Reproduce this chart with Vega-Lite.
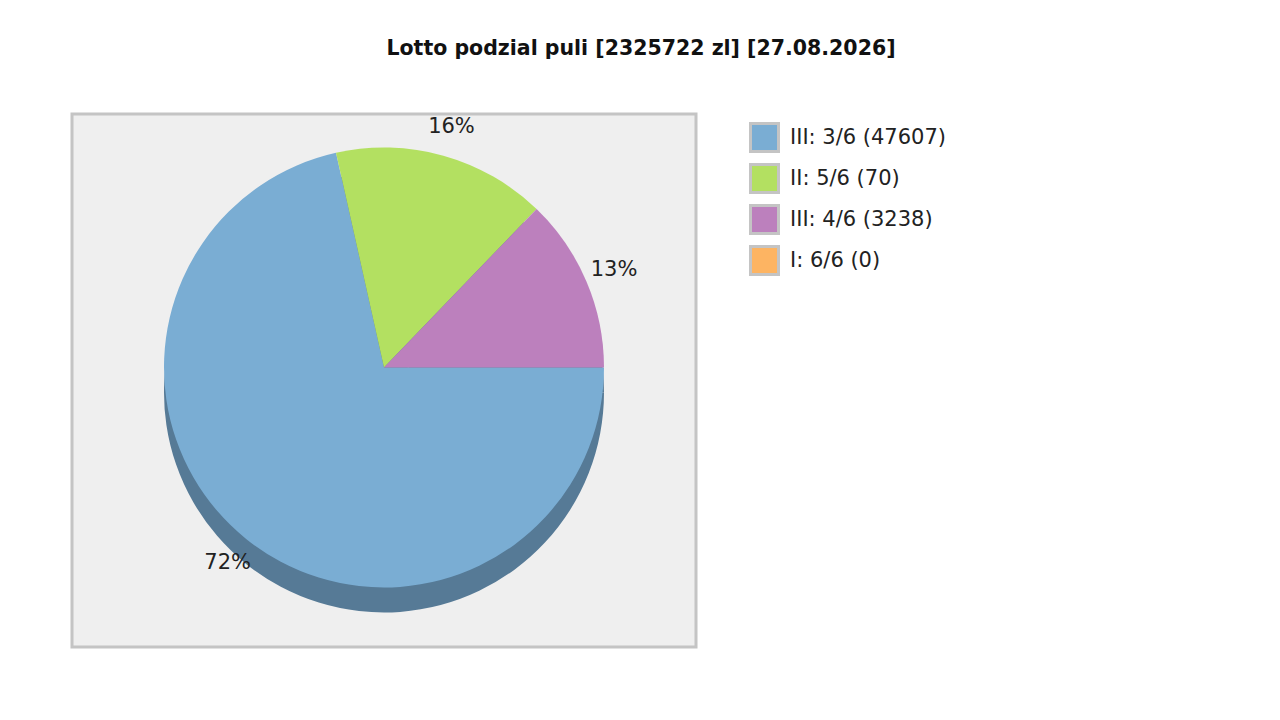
{
  "$schema": "https://vega.github.io/schema/vega-lite/v6.json",
  "autosize": {"type": "none"},
  "width": 624,
  "height": 533,
  "padding": {"left": 72, "top": 114, "right": 584, "bottom": 73},
  "background": "white",
  "config": {
    "font": "DejaVu Sans",
    "view": {"stroke": null}
  },
  "title": {
    "text": "Lotto podzial puli [2325722 zl] [27.08.2026]",
    "font": "DejaVu Sans",
    "fontSize": 20.5,
    "fontWeight": "bold",
    "color": "#111111",
    "anchor": "middle",
    "dx": 257,
    "baseline": "alphabetic",
    "offset": 37
  },
  "datasets": {
    "pool": [
      {"prize": "III: 3/6 (47607)", "share": 71.5, "label": "72%", "ord": 1},
      {"prize": "II: 5/6 (70)", "share": 15.7, "label": "16%", "ord": 2},
      {"prize": "III: 4/6 (3238)", "share": 12.8, "label": "13%", "ord": 3},
      {"prize": "I: 6/6 (0)", "share": 0, "label": "", "ord": 4}
    ],
    "frame": [{"name": "plot"}]
  },
  "layer": [
    {
      "data": {"name": "frame"},
      "mark": {"type": "rect", "fill": "#efefef", "stroke": "#c4c4c4", "strokeWidth": 3},
      "encoding": {
        "x": {"value": 0},
        "x2": {"value": "width"},
        "y": {"value": 0},
        "y2": {"value": "height"}
      }
    },
    {
      "data": {"name": "pool"},
      "mark": {"type": "arc", "radius": 220, "yOffset": 12, "stroke": null, "color": "#567a96"},
      "encoding": {
        "theta": {"field": "share", "type": "quantitative", "stack": true, "scale": {"range": [1.5708, 7.854]}},
        "order": {"field": "ord", "type": "quantitative"}
      }
    },
    {
      "data": {"name": "pool"},
      "mark": {"type": "arc", "radius": 220, "yOffset": -13, "stroke": null},
      "encoding": {
        "theta": {"field": "share", "type": "quantitative", "stack": true, "scale": {"range": [1.5708, 7.854]}},
        "order": {"field": "ord", "type": "quantitative"},
        "color": {
          "field": "prize",
          "type": "nominal",
          "scale": {
            "domain": ["III: 3/6 (47607)", "II: 5/6 (70)", "III: 4/6 (3238)", "I: 6/6 (0)"],
            "range": ["#7aadd3", "#b3e061", "#bc80bd", "#fdb462"]
          },
          "legend": {
            "title": null,
            "orient": "none",
            "legendX": 677,
            "legendY": 8,
            "symbolType": "square",
            "symbolSize": 784,
            "symbolStrokeColor": "#c4c4c4",
            "symbolStrokeWidth": 3,
            "symbolOpacity": 1,
            "labelFont": "DejaVu Sans",
            "labelFontSize": 21,
            "labelColor": "#222222",
            "labelOffset": 10,
            "rowPadding": 0,
            "labelLimit": 400
          }
        }
      }
    },
    {
      "data": {"name": "pool"},
      "mark": {"type": "text", "radius": 250, "yOffset": -13, "fontSize": 21, "font": "DejaVu Sans", "color": "#222222", "align": "center", "baseline": "middle"},
      "encoding": {
        "theta": {"field": "share", "type": "quantitative", "stack": true, "scale": {"range": [1.5708, 7.854]}},
        "order": {"field": "ord", "type": "quantitative"},
        "text": {"field": "label"}
      }
    }
  ]
}
